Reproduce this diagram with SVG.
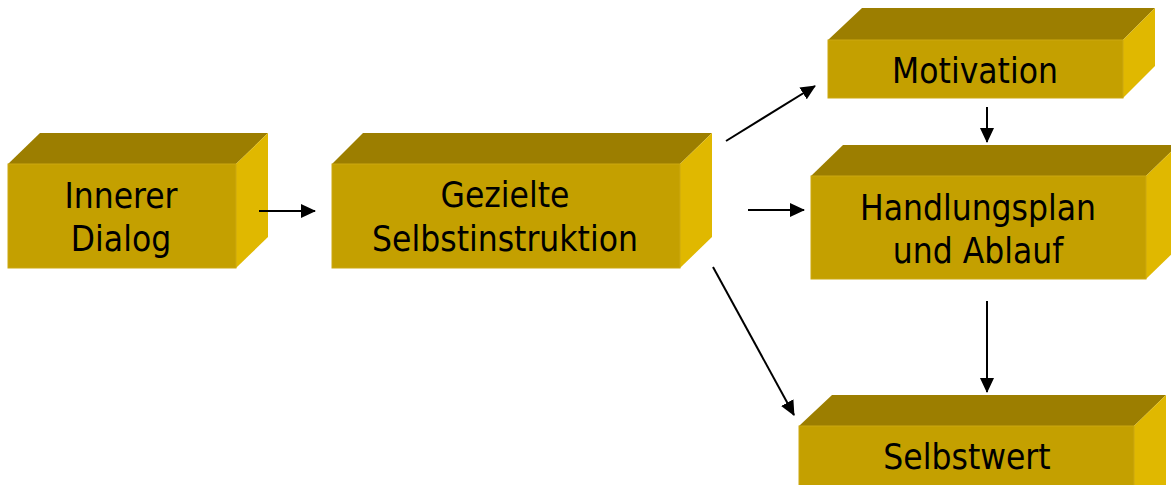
<svg xmlns="http://www.w3.org/2000/svg" width="1171" height="485" viewBox="0 0 1171 485">
<style>
.front{fill:#C4A000;stroke:#CCA810;stroke-width:1}
.top{fill:#9C7E00}
.side{fill:#E0B800}
.lbl{font-family:"DejaVu Sans Condensed","DejaVu Sans",Tahoma,sans-serif;font-size:35px;fill:#000;text-anchor:middle}
.con{stroke:#000;stroke-width:2;fill:none;marker-end:url(#ah)}
</style>
<defs>
<marker id="ah" markerUnits="userSpaceOnUse" markerWidth="15" markerHeight="15" refX="14" refY="7.5" orient="auto">
<path d="M0,0.5 L15,7.5 L0,14.5 Z" fill="#000"/>
</marker>
</defs>
<rect width="1171" height="485" fill="#fff"/>
<g id="node-innerer">
<polygon class="top" points="8,164 40,133 268,133 236,164"/>
<polygon class="side" points="236,164 268,133 268,237 236,268"/>
<rect class="front" x="8" y="164" width="228" height="104"/>
<text class="lbl" x="121" y="208">Innerer</text>
<text class="lbl" x="121" y="251">Dialog</text>
</g>
<g id="node-gezielte">
<polygon class="top" points="332,164 363,133 712,133 680,164"/>
<polygon class="side" points="680,164 712,133 712,237 680,268"/>
<rect class="front" x="332" y="164" width="348" height="104"/>
<text class="lbl" x="505" y="207">Gezielte</text>
<text class="lbl" x="505" y="251">Selbstinstruktion</text>
</g>
<g id="node-motivation">
<polygon class="top" points="828,40 862,8 1155,8 1123,40"/>
<polygon class="side" points="1123,40 1155,8 1155,66 1123,98"/>
<rect class="front" x="828" y="40" width="295" height="58"/>
<text class="lbl" x="975" y="83">Motivation</text>
</g>
<g id="node-handlungsplan">
<polygon class="top" points="811,176 843,145 1178,145 1146,176"/>
<polygon class="side" points="1146,176 1178,145 1178,248 1146,279"/>
<rect class="front" x="811" y="176" width="335" height="103"/>
<text class="lbl" x="978" y="220">Handlungsplan</text>
<text class="lbl" x="978" y="263">und Ablauf</text>
</g>
<g id="node-selbstwert">
<polygon class="top" points="799,426 832,395 1166,395 1134,426"/>
<polygon class="side" points="1134,426 1166,395 1166,485 1134,500"/>
<rect class="front" x="799" y="426" width="335" height="70"/>
<text class="lbl" x="967" y="469">Selbstwert</text>
</g>
<g id="connectors">
<line class="con" x1="259" y1="211" x2="315" y2="211"/>
<line class="con" x1="726" y1="141" x2="815" y2="86"/>
<line class="con" x1="748" y1="210" x2="804" y2="210"/>
<line class="con" x1="987" y1="107" x2="987" y2="142"/>
<line class="con" x1="713" y1="267" x2="794" y2="415"/>
<line class="con" x1="987" y1="301" x2="987" y2="392"/>
</g>
</svg>
